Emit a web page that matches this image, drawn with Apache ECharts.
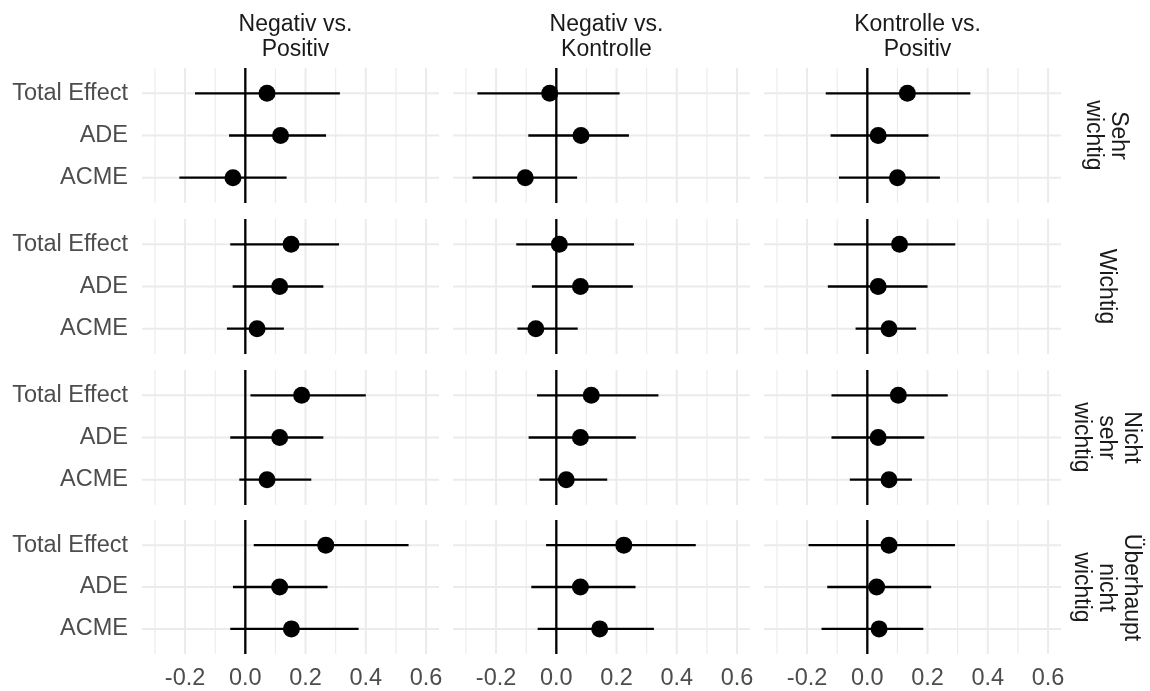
<!DOCTYPE html>
<html>
<head>
<meta charset="utf-8">
<script src="https://cdn.jsdelivr.net/npm/echarts@6/dist/echarts.min.js"></script>
<style>html,body{margin:0;padding:0;background:#fff}#c{width:1150px;height:691px}</style>
</head>
<body>
<div id="c"></div>
<script>
// ---- data ----
const colLabels = ['Negativ vs.\nPositiv', 'Negativ vs.\nKontrolle', 'Kontrolle vs.\nPositiv'];
const rowLabels = ['Sehr\nwichtig', 'Wichtig', 'Nicht\nsehr\nwichtig', 'Überhaupt\nnicht\nwichtig'];
const effects = ['Total Effect', 'ADE', 'ACME'];
const xTickValues = [-0.2, 0, 0.2, 0.4, 0.6];
const xMinorValues = [-0.3, -0.1, 0.1, 0.3, 0.5];

// per row: one [Total Effect, ADE, ACME] list per column
const sehrEst = [[0.072, 0.117, -0.041], [-0.022, 0.082, -0.103], [0.133, 0.036, 0.100]];
const sehrLo  = [[-0.167, -0.054, -0.219], [-0.262, -0.093, -0.278], [-0.138, -0.122, -0.094]];
const sehrHi  = [[0.314, 0.268, 0.137], [0.210, 0.241, 0.069], [0.342, 0.203, 0.241]];

const wichtigEst = [[0.152, 0.114, 0.039], [0.010, 0.080, -0.068], [0.107, 0.036, 0.072]];
const wichtigLo  = [[-0.050, -0.042, -0.061], [-0.133, -0.081, -0.129], [-0.111, -0.131, -0.039]];
const wichtigHi  = [[0.311, 0.259, 0.128], [0.258, 0.254, 0.071], [0.292, 0.200, 0.162]];

const nichtSehrEst = [[0.187, 0.114, 0.072], [0.116, 0.080, 0.033], [0.103, 0.036, 0.072]];
const nichtSehrLo  = [[0.017, -0.050, -0.020], [-0.064, -0.092, -0.056], [-0.119, -0.119, -0.058]];
const nichtSehrHi  = [[0.400, 0.259, 0.219], [0.339, 0.264, 0.169], [0.267, 0.189, 0.148]];

const ueberhauptEst = [[0.267, 0.114, 0.153], [0.224, 0.080, 0.144], [0.072, 0.031, 0.039]];
const ueberhauptLo  = [[0.028, -0.041, -0.050], [-0.034, -0.083, -0.062], [-0.195, -0.133, -0.152]];
const ueberhauptHi  = [[0.542, 0.273, 0.376], [0.463, 0.263, 0.324], [0.291, 0.212, 0.186]];

const estRows = [sehrEst, wichtigEst, nichtSehrEst, ueberhauptEst];
const loRows = [sehrLo, wichtigLo, nichtSehrLo, ueberhauptLo];
const hiRows = [sehrHi, wichtigHi, nichtSehrHi, ueberhauptHi];

// ---- layout ----
const FONT = 'Liberation Sans, Arial, sans-serif';
const gridLefts = [142, 453, 764];
const gridWidth = 297;
const gridTops = [68, 219, 370, 520];
const gridHeight = 135;
const X_MIN = -0.343, X_MAX = 0.643;

const grids = [], xAxes = [], yAxes = [], series = [], titles = [], graphics = [];

function vLineRender(width, color) {
  return function (params, api) {
    const cs = params.coordSys;
    const x = api.coord([api.value(0), 2])[0];
    return {type: 'line', shape: {x1: x, y1: cs.y, x2: x, y2: cs.y + cs.height},
            style: {stroke: color, lineWidth: width}};
  };
}
function hLineRender(params, api) {
  const cs = params.coordSys;
  const y = api.coord([0, api.value(1)])[1];
  return {type: 'line', shape: {x1: cs.x, y1: y, x2: cs.x + cs.width, y2: y},
          style: {stroke: '#ebebeb', lineWidth: 2}};
}
function errRender(params, api) {
  const y = api.value(0);
  const p1 = api.coord([api.value(1), y]);
  const p2 = api.coord([api.value(2), y]);
  return {type: 'line', shape: {x1: p1[0], y1: p1[1], x2: p2[0], y2: p2[1]},
          style: {stroke: '#000', lineWidth: 2.3}};
}

let idx = 0;
for (let r = 0; r < 4; r++) {
  for (let c = 0; c < 3; c++) {
    grids.push({left: gridLefts[c], top: gridTops[r], width: gridWidth, height: gridHeight, containLabel: false});
    xAxes.push({
      type: 'value', gridIndex: idx, min: X_MIN, max: X_MAX,
      axisLine: {show: false}, axisTick: {show: false}, splitLine: {show: false},
      axisLabel: {
        show: r === 3, customValues: xTickValues, margin: 13,
        color: '#4d4d4d', fontSize: 23.5, fontFamily: FONT,
        formatter: v => Number(v).toFixed(1)
      }
    });
    yAxes.push({
      type: 'value', gridIndex: idx, min: 0.4, max: 3.6, inverse: true,
      axisLine: {show: false}, axisTick: {show: false}, splitLine: {show: false},
      axisLabel: {
        show: c === 0, customValues: [1, 2, 3], margin: 14, padding: [10, 0, 0, 0],
        color: '#4d4d4d', fontSize: 23.5, fontFamily: FONT,
        formatter: v => effects[Math.round(v) - 1]
      }
    });
    const common = {xAxisIndex: idx, yAxisIndex: idx, silent: true, animation: false};
    series.push(Object.assign({type: 'custom', renderItem: vLineRender(1.1, '#ebebeb'),
      data: xMinorValues.map(v => [v, 2]), encode: {x: 0, y: 1}, z: 1}, common));
    series.push(Object.assign({type: 'custom', renderItem: vLineRender(2, '#ebebeb'),
      data: xTickValues.map(v => [v, 2]), encode: {x: 0, y: 1}, z: 1}, common));
    series.push(Object.assign({type: 'custom', renderItem: hLineRender,
      data: effects.map((e, i) => [0, i + 1]), encode: {x: 0, y: 1}, z: 1}, common));
    series.push(Object.assign({type: 'custom', renderItem: vLineRender(2.3, '#000'),
      data: [[0, 2]], encode: {x: 0, y: 1}, z: 2}, common));
    series.push(Object.assign({type: 'custom', renderItem: errRender,
      data: effects.map((e, i) => [i + 1, loRows[r][c][i], hiRows[r][c][i]]),
      encode: {x: [1, 2], y: 0}, z: 3}, common));
    series.push(Object.assign({type: 'scatter', symbol: 'circle', symbolSize: 17,
      itemStyle: {color: '#000', opacity: 1},
      data: effects.map((e, i) => [estRows[r][c][i], i + 1]), z: 4}, common));
    idx++;
  }
}

colLabels.forEach((t, c) => {
  titles.push({
    text: t, left: gridLefts[c] + gridWidth / 2, top: 7, textAlign: 'center',
    textStyle: {color: '#1a1a1a', fontSize: 23, fontWeight: 'normal', fontFamily: FONT, lineHeight: 25}
  });
});
rowLabels.forEach((t, r) => {
  graphics.push({
    type: 'text', x: 1106, y: gridTops[r] + gridHeight / 2, rotation: -Math.PI / 2,
    style: {text: t, fill: '#1a1a1a', fontSize: 23, fontFamily: FONT, lineHeight: 25,
            align: 'center', verticalAlign: 'middle'}
  });
});

const chart = echarts.init(document.getElementById('c'), null, {renderer: 'canvas'});
chart.setOption({
  backgroundColor: '#fff',
  animation: false,
  title: titles,
  grid: grids,
  xAxis: xAxes,
  yAxis: yAxes,
  series: series,
  graphic: graphics
});
</script>
</body>
</html>
